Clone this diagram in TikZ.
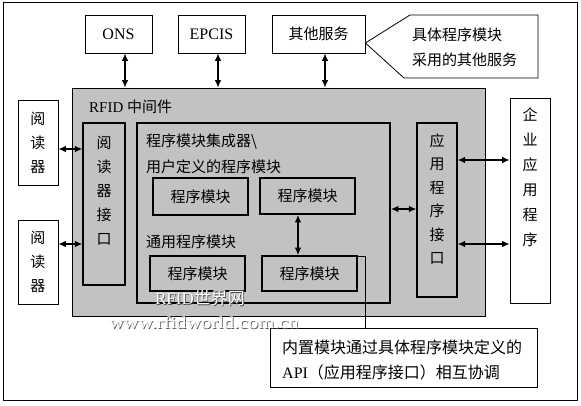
\documentclass[tikz,border=0pt]{standalone}
\usepackage{fontspec}
\setmainfont{Liberation Serif}
\newfontfamily\cjk{Noto Sans CJK SC}
\usetikzlibrary{arrows.meta}
\tikzset{
  wbox/.style={draw, line width=0.8pt, fill=white, inner sep=0pt},
  gbox/.style={draw, line width=0.8pt, fill=black!24, inner sep=0pt},
  tbox/.style={draw, line width=1.8pt, fill=black!24, inner sep=0pt},
  dbl/.style={{Latex[length=7.5pt,width=6.5pt]}-{Latex[length=7.5pt,width=6.5pt]}, line width=1.2pt},
  cn/.style={font=\cjk\fontsize{15}{18}\selectfont},
  vt/.style={font=\cjk\fontsize{15}{24}\selectfont, align=center, inner sep=0pt},
  lat/.style={font=\rmfamily\fontsize{16}{18}\selectfont},
}
\begin{document}
\begin{tikzpicture}[x=1pt,y=-1pt]
\useasboundingbox (0,0) rectangle (581,406);
\draw[line width=1pt] (3,3) rectangle (577,400);

% top service boxes
\node[wbox, minimum width=67pt, minimum height=38pt, lat] (ons) at (118.5,34) {ONS};
\node[wbox, minimum width=67pt, minimum height=38pt, lat] (epc) at (211.5,34) {EPCIS};
\node[wbox, minimum width=93pt, minimum height=38pt, cn] (svc) at (318.5,34) {其他服务};

% callout top
\coordinate (tip) at ([yshift=-9pt]svc.east);
\draw[line width=0.8pt, fill=white] (410,15) -- (538,15) -- (538,78) -- (404,78) -- (tip) -- cycle;
\node[anchor=west, align=left, inner sep=0pt, font=\cjk\fontsize{15}{25}\selectfont] (c1) at (412,47.5) {具体程序模块\\采用的其他服务};

% middleware
\node[gbox, minimum width=413pt, minimum height=228pt] (mw) at (278.5,202) {};
\node[anchor=west, inner sep=0pt] (mwl) at (89,107) {\fontsize{15}{18}\selectfont RFID {\cjk 中间件}};

% arrows from services
\draw[dbl] ([xshift=6.5pt]ons.south) -- ([xshift=6.5pt]ons.south |- mw.north);
\draw[dbl] ([xshift=6.5pt]epc.south) -- ([xshift=6.5pt]epc.south |- mw.north);
\draw[dbl] ([xshift=6.5pt]svc.south) -- ([xshift=6.5pt]svc.south |- mw.north);

% readers
\node[wbox, minimum width=40pt, minimum height=85pt, vt] (r1) at (38,142.5) {阅\\读\\器};
\node[wbox, minimum width=40pt, minimum height=84pt, vt] (r2) at (38,262) {阅\\读\\器};

% reader interface
\node[draw, line width=1.3pt, fill=black!24, minimum width=42pt, minimum height=162pt] (ri) at (104,204) {};
\node[vt] (rit) at (104,190.5) {阅\\读\\器\\接\\口};
\draw[dbl] ([yshift=-6.5pt]r1.east) -- ([yshift=-6.5pt]r1.east -| ri.west);
\draw[dbl] ([yshift=18pt]r2.east) -- ([yshift=18pt]r2.east -| ri.west);

% integrator
\node[tbox, minimum width=253pt, minimum height=180pt] (ig) at (263.5,213) {};
\node[cn, anchor=west, inner sep=0pt] (igt1) at (146,142) {程序模块集成器\textbackslash};
\node[cn, anchor=west, inner sep=0pt] (igt2) at (146,167) {用户定义的程序模块};
\node[cn, anchor=west, inner sep=0pt] (igt3) at (146,242) {通用程序模块};

\node[tbox, minimum width=95pt, minimum height=37pt, cn] (m1) at (200.5,196.5) {程序模块};
\node[tbox, minimum width=95pt, minimum height=36pt, cn] (m2) at (307.5,196) {程序模块};
\node[tbox, minimum width=95pt, minimum height=35pt, cn] (m3) at (197.5,273.5) {程序模块};
\node[tbox, minimum width=95pt, minimum height=35pt, cn] (m4) at (309.5,273.5) {程序模块};
\draw[dbl] ([xshift=-9.5pt]m2.south) -- ([xshift=-9.5pt]m2.south |- m4.north);

% application interface
\node[draw, line width=1.3pt, fill=black!24, minimum width=40pt, minimum height=174pt] (ai) at (437,210) {};
\node[vt, font=\cjk\fontsize{15}{23.5}\selectfont] (ait) at (437,199) {应\\用\\程\\序\\接\\口};
\draw[dbl] ([yshift=4pt]ig.east) -- ([yshift=4pt]ig.east -| ai.west);

% enterprise app
\node[wbox, minimum width=40pt, minimum height=205pt] (ea) at (530,200.5) {};
\node[vt, font=\cjk\fontsize{15}{25}\selectfont] (eat) at (530,177.5) {企\\业\\应\\用\\程\\序};
\draw[dbl] ([yshift=50pt]ai.east) -- ([yshift=50pt]ai.east -| ea.west);
\draw[dbl] ([yshift=-34pt]ai.east) -- ([yshift=-34pt]ai.east -| ea.west);

% bottom callout
\node[wbox, minimum width=267pt, minimum height=59pt] (c2) at (403.5,357.5) {};
\node[anchor=west, align=left, inner sep=0pt, font=\cjk\fontsize{16}{25}\selectfont] (c2t) at (282,359.5) {内置模块通过具体程序模块定义的\\{\rmfamily API}（应用程序接口）相互协调};
\coordinate (j) at ([xshift=-9.5pt,yshift=-41pt]m2.south);
\draw[line width=0.8pt] (j) -| ([xshift=-38.5pt]c2.north);

% watermark
\node[inner sep=0pt, text=black!70, font=\rmfamily\fontsize{17}{18}\selectfont] (wm1s) at (200.8,298.8) {RFID{\cjk 世界网}};
\node[inner sep=0pt, text=white, font=\rmfamily\fontsize{17}{18}\selectfont] (wm1) at (200,298) {RFID{\cjk 世界网}};
\node[inner sep=0pt, xscale=1.2, text=black!70, font=\rmfamily\fontsize{17}{18}\selectfont] (wm2s) at (204.8,323.8) {www.rfidworld.com.cn};
\node[inner sep=0pt, xscale=1.2, text=white, font=\rmfamily\fontsize{17}{18}\selectfont] (wm2) at (204,323) {www.rfidworld.com.cn};
\end{tikzpicture}
\end{document}
